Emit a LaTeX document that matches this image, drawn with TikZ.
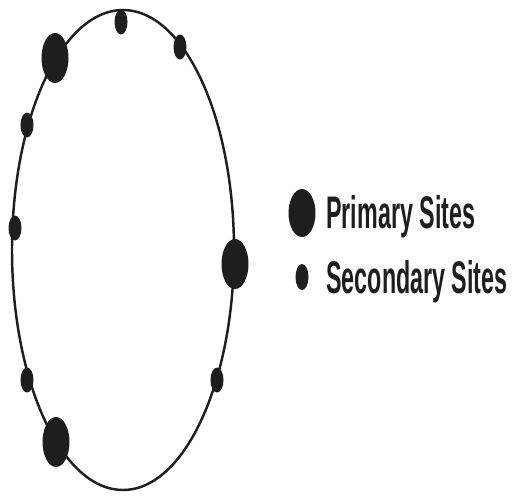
\documentclass[tikz,border=0pt]{standalone}
\usepackage{fontspec}
\usepackage{graphicx}
\setmainfont{Liberation Sans}
\definecolor{siteink}{HTML}{1E1E1E}
\begin{document}
\begin{tikzpicture}[x=0.02cm, y=-0.02cm,
  lab/.style={font=\fontsize{26}{29}\selectfont\bfseries, text=siteink, inner sep=0pt, anchor=base west}]
  \useasboundingbox (0,0) rectangle (513,495);
  \draw[siteink, line width=1.4pt] (123,250) ellipse (111 and 240);
  % primary sites
  \foreach \px/\py in {55/58, 235/264, 56/442}
    \fill[siteink] (\px,\py) ellipse (13.5 and 25);
  % secondary sites
  \foreach \px/\py in {121/22, 180/47, 27/125, 15/228, 27/380, 217/380}
    \fill[siteink] (\px,\py) ellipse (6.5 and 12.5);
  % legend
  \fill[siteink] (302,213) ellipse (13.5 and 24);
  \fill[siteink] (302,277) ellipse (6.5 and 13);
  \node[lab] (primary) at (326,228) {\scalebox{0.51}[1]{Primary Sites}};
  \node[lab] (secondary) at (326,293) {\scalebox{0.51}[1]{Secondary Sites}};
\end{tikzpicture}
\end{document}
